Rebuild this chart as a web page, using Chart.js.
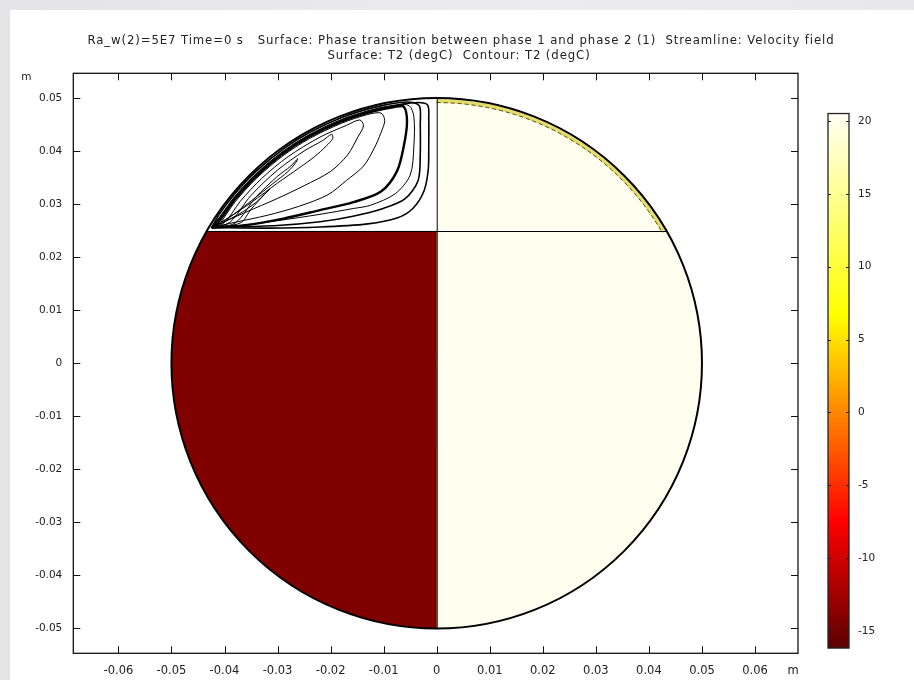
<!DOCTYPE html>
<html>
<head>
<meta charset="utf-8">
<script src="https://cdn.jsdelivr.net/npm/chart.js@4.4.1/dist/chart.umd.min.js"></script>
<style>
  html,body{margin:0;padding:0;}
  body{width:914px;height:680px;overflow:hidden;position:relative;
    background:linear-gradient(90deg,#e4e4e7 0%,#ececee 60%,#e8e8ea 100%);}
  #panel{position:absolute;left:10px;top:10px;right:0;bottom:0;background:#fff;}
  #c{position:absolute;left:0;top:0;}
</style>
</head>
<body>
<div id="panel"></div>
<canvas id="c" width="914" height="680"></canvas>
<script>
// --- geometry of the cylinder cross-section (m) ---
const radius = 0.05;
const interfaceY = 0.025;      // phase interface height
const xMin = -0.0685, xMax = 0.0681;
const yMin = -0.0547, yMax = 0.0547;

// --- axis ticks ---
const xTicks = [-0.06,-0.05,-0.04,-0.03,-0.02,-0.01,0,0.01,0.02,0.03,0.04,0.05,0.06];
const xTickLabels = ['-0.06','-0.05','-0.04','-0.03','-0.02','-0.01','0','0.01','0.02','0.03','0.04','0.05','0.06'];
const yTicks = [-0.05,-0.04,-0.03,-0.02,-0.01,0,0.01,0.02,0.03,0.04,0.05];
const yTickLabels = ['-0.05','-0.04','-0.03','-0.02','-0.01','0','0.01','0.02','0.03','0.04','0.05'];

// --- colour legend T2 (degC) ---
const cbMin = -16.17, cbMax = 20.51;
const cbAxisMin = -16.53, cbAxisMax = 23.27;
const cbTicks = [-15,-10,-5,0,5,10,15,20];
const cbStopValues = [-16.17, -7.5, 0, 6.7, 20.51];
const cbStopColors = ['#5c0000', '#ff0000', '#ff8700', '#ffff00', '#fffff4'];

// surface colours of the two phases
const coldColor = '#800000';
const warmColor = '#fffff0';

// --- streamlines, upper-left cell (x, y in m) ---
const streamA = [[-0.0424,0.0256],[-0.041,0.02738],[-0.038,0.03141],[-0.034,0.0357],[-0.029,0.03987],[-0.024,0.04306],[-0.018,0.0459],[-0.012,0.04782],[-0.007,0.0488],[-0.0035,0.0492],[-0.0017,0.0487],[-0.0015,0.046],[-0.0015,0.041],[-0.0016,0.0365],[-0.0024,0.0325],[-0.0045,0.0292],[-0.0075,0.0274],[-0.013,0.0263],[-0.022,0.0257],[-0.032,0.0255],[-0.0424,0.0256]];
const streamB = [[-0.0424,0.0256],[-0.041,0.02809],[-0.038,0.03203],[-0.034,0.03625],[-0.029,0.04036],[-0.024,0.04352],[-0.018,0.04633],[-0.012,0.04823],[-0.007,0.0492],[-0.0045,0.0492],[-0.0032,0.0484],[-0.0031,0.045],[-0.0031,0.0395],[-0.0035,0.0345],[-0.006,0.031],[-0.0101,0.0292],[-0.016,0.0277],[-0.022,0.0267],[-0.030,0.026],[-0.0424,0.0256]];
const streamC = [[-0.0424,0.0256],[-0.041,0.02738],[-0.038,0.03141],[-0.034,0.0357],[-0.029,0.03987],[-0.024,0.04306],[-0.018,0.0459],[-0.012,0.04782],[-0.0075,0.0487],[-0.0052,0.0486],[-0.0043,0.0465],[-0.0043,0.041],[-0.005,0.0355],[-0.0078,0.032],[-0.0125,0.0298],[-0.0157,0.0292],[-0.022,0.0281],[-0.030,0.0269],[-0.037,0.026],[-0.0424,0.0256]];
const streamD = [[-0.0424,0.0256],[-0.041,0.02683],[-0.038,0.03094],[-0.034,0.03528],[-0.029,0.0395],[-0.024,0.04272],[-0.018,0.04557],[-0.012,0.04751],[-0.008,0.04834],[-0.0062,0.0484],[-0.0056,0.0455],[-0.0062,0.041],[-0.0075,0.0362],[-0.0105,0.0324],[-0.0157,0.0304],[-0.022,0.0289],[-0.0289,0.0273],[-0.0365,0.026],[-0.0424,0.0256]];
const streamE = [[-0.0424,0.0256],[-0.041,0.02628],[-0.038,0.03046],[-0.034,0.03487],[-0.029,0.03912],[-0.024,0.04238],[-0.018,0.04525],[-0.013,0.04693],[-0.0105,0.0472],[-0.0098,0.0458],[-0.0105,0.0435],[-0.0118,0.0405],[-0.0138,0.0372],[-0.017,0.0345],[-0.0205,0.0318],[-0.026,0.0296],[-0.032,0.0279],[-0.038,0.0266],[-0.0424,0.0256]];
const streamF = [[-0.0424,0.0256],[-0.040,0.02653],[-0.037,0.03058],[-0.033,0.03486],[-0.028,0.03899],[-0.022,0.04266],[-0.017,0.04489],[-0.0145,0.0459],[-0.0138,0.0448],[-0.0148,0.0428],[-0.0168,0.0393],[-0.020,0.0362],[-0.025,0.0335],[-0.030,0.0311],[-0.036,0.0285],[-0.0424,0.0256]];
const streamG = [[-0.0424,0.0256],[-0.039,0.02659],[-0.035,0.03167],[-0.030,0.03644],[-0.025,0.04004],[-0.0215,0.04202],[-0.0198,0.0432],[-0.0196,0.0424],[-0.0208,0.0410],[-0.023,0.0390],[-0.026,0.0368],[-0.030,0.034],[-0.035,0.0303],[-0.039,0.0276],[-0.0424,0.0256]];
const streamH = [[-0.0424,0.0256],[-0.038,0.02645],[-0.034,0.03143],[-0.030,0.03527],[-0.0275,0.0372],[-0.0262,0.0386],[-0.0266,0.0378],[-0.028,0.0362],[-0.031,0.0338],[-0.035,0.0306],[-0.039,0.0276],[-0.0424,0.0256]];
const streamI = [[-0.0424,0.0256],[-0.037,0.02648],[-0.035,0.02907],[-0.0325,0.0318],[-0.0315,0.0328],[-0.0322,0.0322],[-0.034,0.0304],[-0.0375,0.0280],[-0.0424,0.0256]];
const streamlines = [streamA, streamB, streamC, streamD, streamE, streamF, streamG, streamH, streamI];
const lineWidths = [1.6, 1.6, 1, 2.4, 1, 1, 1, 1, 1];

const titleLines = [
  'Ra_w(2)=5E7 Time=0 s   Surface: Phase transition between phase 1 and phase 2 (1)  Streamline: Velocity field',
  'Surface: T2 (degC)  Contour: T2 (degC)'
];

const yFont = {family:'DejaVu Sans', size:10.5};
const xFont = {family:'DejaVu Sans', size:11.5};
const textColor = '#222';

// fills of the two phases inside the circle
const domainPlugin = {
  id:'domain',
  beforeDatasetsDraw(chart){
    const {ctx, chartArea:a, scales:{x, y}} = chart;
    const cx = x.getPixelForValue(0), cy = y.getPixelForValue(0);
    const r = x.getPixelForValue(radius) - cx;
    const yi = y.getPixelForValue(interfaceY);
    ctx.save();
    ctx.beginPath(); ctx.rect(a.left, a.top, a.width, a.height); ctx.clip();
    ctx.beginPath(); ctx.arc(cx, cy, r, 0, Math.PI*2); ctx.clip();
    ctx.fillStyle = warmColor; ctx.fillRect(cx-r-1, cy-r-1, 2*r+2, 2*r+2);
    ctx.fillStyle = coldColor; ctx.fillRect(cx-r-1, yi, r+1, cy+r-yi+1);
    ctx.fillStyle = '#ffffff'; ctx.fillRect(cx-r-1, cy-r-1, r+1, yi-cy+r+1);
    // T2 contour band along the warm arc
    const ang = -Math.asin((cy-yi)/r);
    ctx.strokeStyle = '#e4dd6c'; ctx.lineWidth = 4;
    ctx.beginPath(); ctx.arc(cx, cy, r-3, -Math.PI/2, ang); ctx.stroke();
    ctx.strokeStyle = '#3a3a20'; ctx.lineWidth = 0.9; ctx.setLineDash([4,3]);
    ctx.beginPath(); ctx.arc(cx, cy, r-4.5, -Math.PI/2, ang); ctx.stroke();
    ctx.restore();
  },
  afterDatasetsDraw(chart){
    const {ctx, scales:{x, y}} = chart;
    const cx = x.getPixelForValue(0), cy = y.getPixelForValue(0);
    const r = x.getPixelForValue(radius) - cx;
    const yi = y.getPixelForValue(interfaceY);
    const half = Math.sqrt(r*r - (cy-yi)*(cy-yi));
    ctx.save();
    ctx.strokeStyle = '#000';
    ctx.lineWidth = 1;
    ctx.beginPath();
    ctx.moveTo(cx+0.5, cy-r); ctx.lineTo(cx+0.5, cy+r);
    ctx.moveTo(cx-half, Math.round(yi)+0.5); ctx.lineTo(cx+half, Math.round(yi)+0.5);
    ctx.stroke();
    ctx.lineWidth = 2;
    ctx.beginPath(); ctx.arc(cx, cy, r, 0, Math.PI*2); ctx.stroke();
    ctx.restore();
  }
};

// title, frame with inward ticks on all four sides, unit labels, colour legend
const framePlugin = {
  id:'frame',
  afterDraw(chart){
    const {ctx, chartArea:a, scales:{x, y, cb}} = chart;
    ctx.save();
    ctx.fillStyle = textColor;
    ctx.font = '13px "DejaVu Sans Condensed"';
    ctx.letterSpacing = '0.9px';
    ctx.textAlign = 'center'; ctx.textBaseline = 'middle';
    ctx.fillText(titleLines[0], chart.width/2 + 4, 41);
    ctx.fillText(titleLines[1], chart.width/2 + 2, 56);
    ctx.letterSpacing = '0px';

    ctx.strokeStyle = '#111'; ctx.lineWidth = 1.3;
    ctx.strokeRect(a.left, a.top, a.width, a.height);
    ctx.lineWidth = 1;
    ctx.beginPath();
    x.ticks.forEach(t=>{
      const px = Math.round(x.getPixelForValue(t.value))+0.5;
      ctx.moveTo(px, a.bottom); ctx.lineTo(px, a.bottom-7);
      ctx.moveTo(px, a.top); ctx.lineTo(px, a.top+7);
    });
    y.ticks.forEach(t=>{
      const py = Math.round(y.getPixelForValue(t.value))+0.5;
      ctx.moveTo(a.left, py); ctx.lineTo(a.left+7, py);
      ctx.moveTo(a.right, py); ctx.lineTo(a.right-7, py);
    });
    ctx.stroke();

    ctx.font = '10.5px "DejaVu Sans"';
    ctx.fillText('m', a.left-47, a.top+4);
    ctx.font = '11.5px "DejaVu Sans"';
    ctx.fillText('m', a.right-5, x.top+18);

    // colour legend
    const top = cb.getPixelForValue(cbMax), bot = cb.getPixelForValue(cbMin);
    const left = cb.left+30, w = 21;
    const g = ctx.createLinearGradient(0, bot, 0, top);
    cbStopValues.forEach((v,i)=>g.addColorStop((v-cbMin)/(cbMax-cbMin), cbStopColors[i]));
    ctx.fillStyle = g;
    ctx.fillRect(left, top, w, bot-top);
    ctx.strokeStyle = '#222'; ctx.lineWidth = 1.3;
    ctx.strokeRect(left, top, w, bot-top);
    ctx.lineWidth = 1;
    ctx.beginPath();
    cb.ticks.forEach(t=>{
      const py = Math.round(cb.getPixelForValue(t.value))+0.5;
      ctx.moveTo(left, py); ctx.lineTo(left+3, py);
      ctx.moveTo(left+w, py); ctx.lineTo(left+w-3, py);
    });
    ctx.stroke();
    ctx.restore();
  }
};

const datasets = streamlines.map((pts,i)=>({
  data: pts.map(p=>({x:p[0], y:p[1]})),
  showLine: true,
  borderColor: '#000',
  borderWidth: lineWidths[i],
  pointRadius: 0,
  tension: 0.3,
  fill: false
}));

// axes keep a fixed size; label paddings must not push the plot area
const fixSize = (w, h) => s => {
  if (w) s.width = w;
  if (h) s.height = h;
  s.paddingTop = s.paddingBottom = s.paddingLeft = s.paddingRight = 0;
};

new Chart(document.getElementById('c'), {
  type:'scatter',
  data:{datasets},
  plugins:[domainPlugin, framePlugin],
  options:{
    responsive:false, animation:false, devicePixelRatio:1,
    layout:{padding:{top:73.3, left:0, right:0, bottom:0}},
    plugins:{legend:{display:false}, tooltip:{enabled:false}, title:{display:false}},
    scales:{
      x:{type:'linear', position:'bottom', min:xMin, max:xMax,
        afterBuildTicks(s){ s.ticks = xTicks.map(v=>({value:v})); },
        afterFit: fixSize(0, 26.7),
        grid:{display:true, drawOnChartArea:false, drawTicks:false}, border:{display:false},
        ticks:{padding:11, font:xFont, color:textColor, maxRotation:0, autoSkip:false,
          callback:(v,i)=>xTickLabels[i]}},
      y:{type:'linear', position:'left', min:yMin, max:yMax,
        afterBuildTicks(s){ s.ticks = yTicks.map(v=>({value:v})); },
        afterFit: fixSize(73.3, 0),
        grid:{display:true, drawOnChartArea:false, drawTicks:false}, border:{display:false},
        ticks:{padding:11, font:yFont, color:textColor, autoSkip:false,
          callback:(v,i)=>yTickLabels[i]}},
      cb:{type:'linear', position:'right', min:cbAxisMin, max:cbAxisMax,
        afterBuildTicks(s){ s.ticks = cbTicks.map(v=>({value:v})); },
        afterFit: fixSize(116, 0),
        grid:{display:true, drawOnChartArea:false, drawTicks:false}, border:{display:false},
        ticks:{padding:60, font:yFont, color:textColor, autoSkip:false,
          callback:v=>String(v)}}
    }
  }
});
</script>
</body>
</html>
